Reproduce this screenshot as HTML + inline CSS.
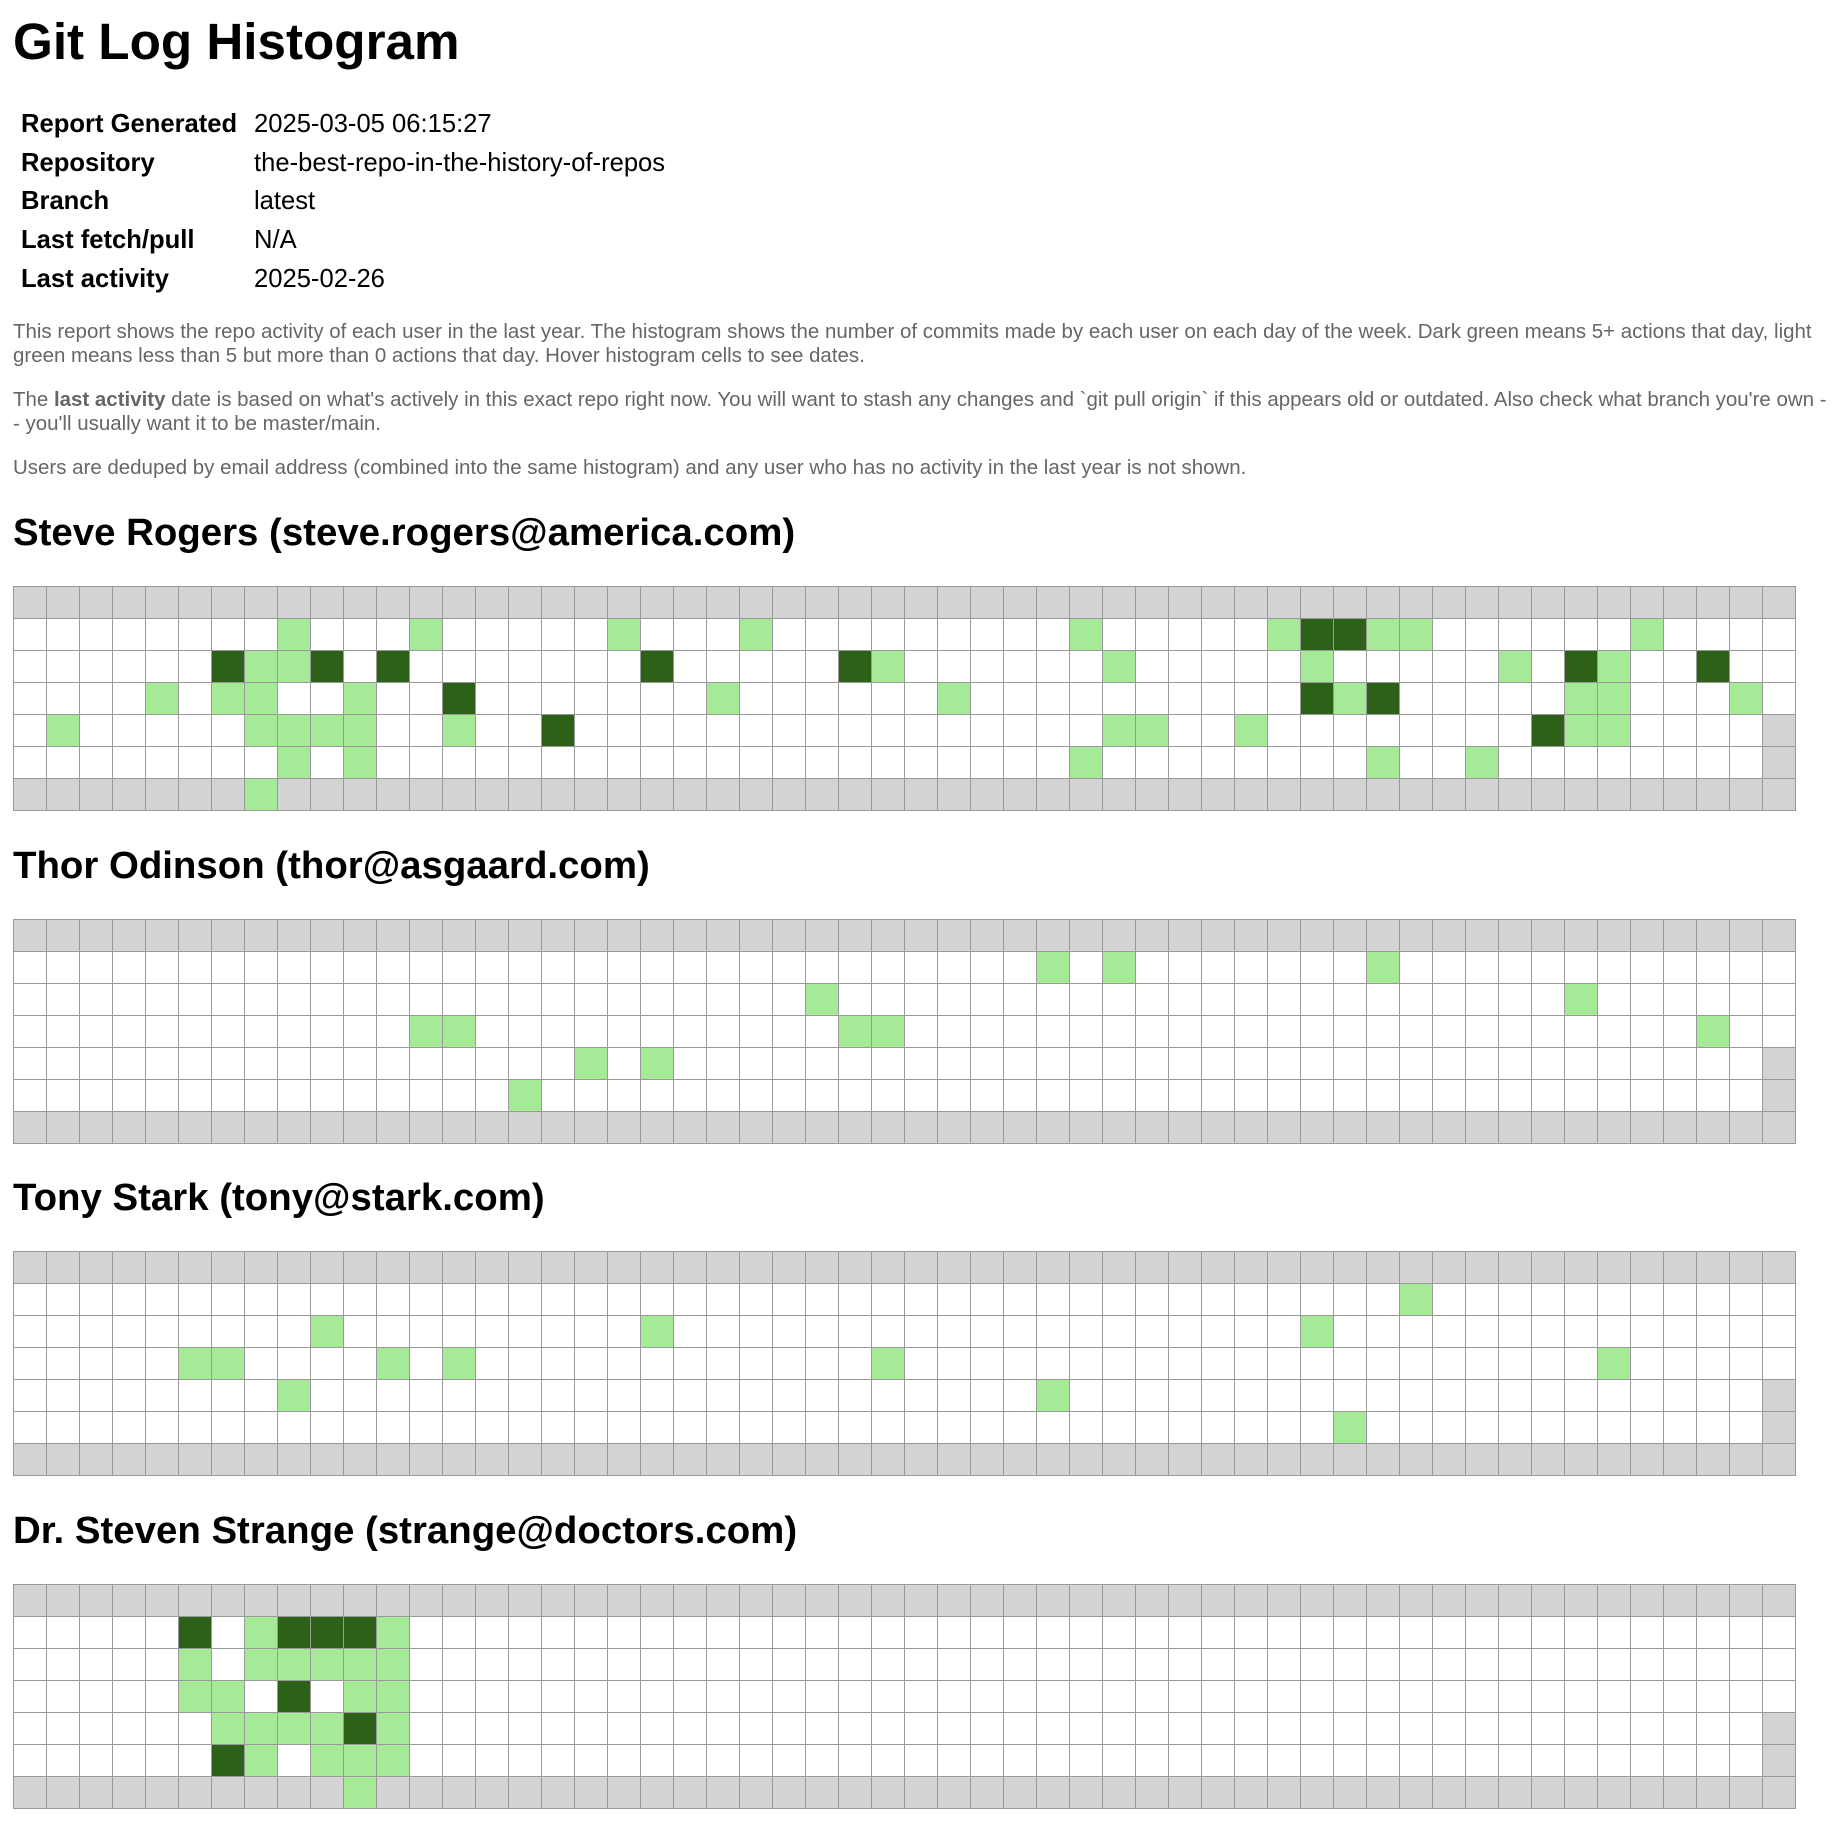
<!DOCTYPE html>
<html><head><meta charset="utf-8">
<style>
body{margin:0;width:1844px;height:1834px;background:#fff;position:relative;font-family:"Liberation Sans",Arial,sans-serif;overflow:hidden}
h1{position:absolute;margin:0;left:13px;top:16px;font-size:51.2px;line-height:51.2px;font-weight:bold}
h2{position:absolute;margin:0;left:13px;font-size:38.4px;line-height:38.4px;font-weight:bold}
.tb{position:absolute;top:105px;font-size:25.6px;line-height:38.7px;white-space:nowrap}
.p{position:absolute;left:13px;font-size:20.48px;line-height:24px;color:#666;white-space:nowrap}
.g{position:absolute;left:13px;width:1783px;height:225px;background:#fff}
.g div{position:absolute;width:33px;height:32px}
.g .gr{background:#d3d3d3}
.g .L{background:#a6ea98}
.g .D{background:#2c6117}
.g .ov{left:0;top:0;width:1783px;height:225px;background-image:linear-gradient(to right,#999 1px,transparent 1px),linear-gradient(to bottom,#999 1px,transparent 1px);background-size:33px 100%,100% 32px}
</style></head><body>
<h1>Git Log Histogram</h1>
<div class="tb" style="left:21px;font-weight:bold">Report Generated<br>Repository<br>Branch<br>Last fetch/pull<br>Last activity</div>
<div class="tb" style="left:254px">2025-03-05 06:15:27<br>the-best-repo-in-the-history-of-repos<br>latest<br>N/A<br>2025-02-26</div>
<div class="p" style="top:320px">This report shows the repo activity of each user in the last year. The histogram shows the number of commits made by each user on each day of the week. Dark green means 5+ actions that day, light<br>green means less than 5 but more than 0 actions that day. Hover histogram cells to see dates.</div>
<div class="p" style="top:388px">The <b>last activity</b> date is based on what's actively in this exact repo right now. You will want to stash any changes and `git pull origin` if this appears old or outdated. Also check what branch you're own -<br>- you'll usually want it to be master/main.</div>
<div class="p" style="top:456px">Users are deduped by email address (combined into the same histogram) and any user who has no activity in the last year is not shown.</div>

<h2 style="top:514px">Steve Rogers (steve.rogers@america.com)</h2>
<div class="g" id="g1" style="top:586px"></div>
<h2 style="top:847px">Thor Odinson (thor@asgaard.com)</h2>
<div class="g" id="g2" style="top:919px"></div>
<h2 style="top:1179px">Tony Stark (tony@stark.com)</h2>
<div class="g" id="g3" style="top:1251px"></div>
<h2 style="top:1512px">Dr. Steven Strange (strange@doctors.com)</h2>
<div class="g" id="g4" style="top:1584px"></div>

<script>
var data={
g1:"1,8,L 1,12,L 1,18,L 1,22,L 1,32,L 1,38,L 1,39,D 1,40,D 1,41,L 1,42,L 1,49,L 2,6,D 2,7,L 2,8,L 2,9,D 2,11,D 2,19,D 2,25,D 2,26,L 2,33,L 2,39,L 2,45,L 2,47,D 2,48,L 2,51,D 3,4,L 3,6,L 3,7,L 3,10,L 3,13,D 3,21,L 3,28,L 3,39,D 3,40,L 3,41,D 3,47,L 3,48,L 3,52,L 4,1,L 4,7,L 4,8,L 4,9,L 4,10,L 4,13,L 4,16,D 4,33,L 4,34,L 4,37,L 4,46,D 4,47,L 4,48,L 5,8,L 5,10,L 5,32,L 5,41,L 5,44,L 6,7,L",
g2:"1,31,L 1,33,L 1,41,L 2,24,L 2,47,L 3,12,L 3,13,L 3,25,L 3,26,L 3,51,L 4,17,L 4,19,L 5,15,L",
g3:"1,42,L 2,9,L 2,19,L 2,39,L 3,5,L 3,6,L 3,11,L 3,13,L 3,26,L 3,48,L 4,8,L 4,31,L 5,40,L",
g4:"1,5,D 1,7,L 1,8,D 1,9,D 1,10,D 1,11,L 2,5,L 2,7,L 2,8,L 2,9,L 2,10,L 2,11,L 3,5,L 3,6,L 3,8,D 3,10,L 3,11,L 4,6,L 4,7,L 4,8,L 4,9,L 4,10,D 4,11,L 5,6,D 5,7,L 5,9,L 5,10,L 5,11,L 6,10,L"
};
for(var k in data){
 var g=document.getElementById(k),h='';
 h+='<div class="gr" style="left:0;top:0;width:1783px;height:32px"></div>';
 h+='<div class="gr" style="left:0;top:192px;width:1783px;height:33px"></div>';
 h+='<div class="gr" style="left:1749px;top:128px;width:34px;height:64px"></div>';
 data[k].split(' ').forEach(function(s){var p=s.split(',');h+='<div class="'+p[2]+'" style="left:'+(p[1]*33)+'px;top:'+(p[0]*32)+'px"></div>';});
 h+='<div class="ov"></div>';
 g.innerHTML=h;
}
</script>
</body></html>
